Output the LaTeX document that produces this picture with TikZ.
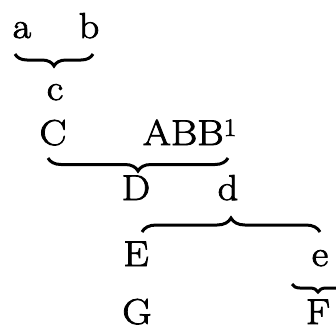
\documentclass[tikz,border=0pt]{standalone}
\usepackage{fontspec}
\newfontfamily\termfont{Latin Modern Roman}[FakeBold=2.2,FakeStretch=1.12]
\usetikzlibrary{decorations.pathreplacing}
\begin{document}
\begin{tikzpicture}[x=1pt,y=-1pt,
  term/.style={anchor=base,inner sep=0pt,font=\termfont\fontsize{36}{40}\selectfont},
  bracket/.style={decorate,decoration={brace,amplitude=#1},line width=3pt},
  bracket/.default=12]
\useasboundingbox (0,0) rectangle (336,330);

% first row of terms
\node[term] (a) at (22,38) {a};
\node[term] (b) at (89,38) {b};
\node[term] (c) at (55,100) {c};

% second row
\node[term] (C) at (53,145) {C};
\node[term] (ABB) at (190,145) {ABB\textsuperscript{1}};

% third row
\node[term] (D) at (136,200) {D};
\node[term] (d) at (228,200) {d};

% fourth row
\node[term] (E) at (136,266) {E};
\node[term] (e) at (320,266) {e};

% fifth row
\node[term] (G) at (137,324) {G};
\node[term] (F) at (318,324) {F};

% brace end points
\coordinate (ab-r) at (93,54);
\coordinate (ab-l) at (15,54);
\coordinate (CA-r) at (228,158);
\coordinate (CA-l) at (48,158);
\coordinate (Ee-l) at (142,232);
\coordinate (Ee-r) at (320,232);
\coordinate (F-r) at (344,284);
\coordinate (F-l) at (292,284);

% braces joining the groups
\draw[bracket=12] (ab-r) -- (ab-l);
\draw[bracket=13] (CA-r) -- (CA-l);
\draw[bracket=14] (Ee-l) -- (Ee-r);
\draw[bracket=8] (F-r) -- (F-l);
\end{tikzpicture}
\end{document}
